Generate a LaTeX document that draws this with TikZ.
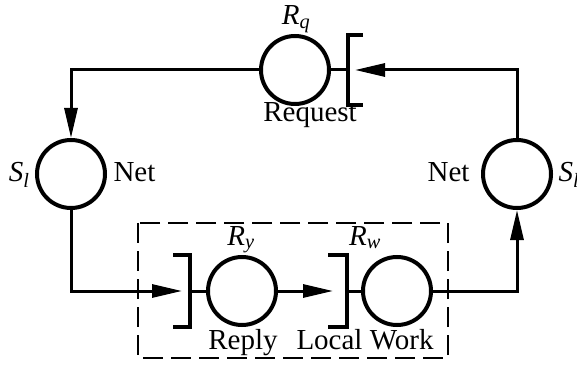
\documentclass[tikz,border=0pt]{standalone}
\usepackage{amsmath}
\usepackage{fontspec}
\setmainfont{Liberation Serif}
\usepackage{tikz}
\usetikzlibrary{calc}
\usetikzlibrary{arrows.meta, shapes}

\newcommand{\plabel}[2]{\textit{#1}$_{\textit{#2}}$}

\begin{document}
\begin{tikzpicture}[x = 1pt, y = 1pt, font = \fontsize{29}{32}\selectfont]

\tikzstyle{place}=[circle, draw, line width = 4pt, minimum size = 68pt, inner sep = 0pt]
\tikzstyle{arc}=[-{Triangle[length=30pt, width=13pt]}, line width = 3pt, color = black]
\tikzstyle{link}=[line width = 3pt, color = black]
\tikzstyle{bar}=[line width = 4pt, color = black]
\tikzstyle{group}=[line width = 1.6pt, dash pattern = on 20pt off 8pt]

\useasboundingbox (0, 0) rectangle (577, 364);

\coordinate (Q) at (295, 294);
\coordinate (L) at (71, 190);
\coordinate (R) at (517, 190);
\coordinate (Y) at (242, 73);
\coordinate (W) at (397, 73);
\coordinate (rqb) at (348, 294);
\coordinate (ryb) at (190, 73);
\coordinate (rwb) at (347, 73);
\coordinate (rqin) at (355, 294);
\coordinate (ryin) at (182, 73);
\coordinate (rwin) at (333, 73);
\coordinate (box1) at (138, 141);
\coordinate (box2) at (448, 6);

\path
(Q) node[place](rq) {}
(L) node[place](sll) {}
(R) node[place](slr) {}
(Y) node[place](ry) {}
(W) node[place](rw) {};

\path
($(Q) + (1, 45)$) node[anchor = base](rqlab) {\plabel{R}{q}}
($(Q) + (15, -52)$) node[anchor = base](reqlab) {Request}
($(L) + (-38, -8)$) node[anchor = base east](sllab) {\plabel{S}{l}}
($(L) + (39, -8)$) node[anchor = base west](netl) {Net}
($(R) + (-44, -8)$) node[anchor = base east](netr) {Net}
($(R) + (38, -8)$) node[anchor = base west](srlab) {\plabel{S}{l}}
($(Y) + (-1, 46)$) node[anchor = base](rylab) {\plabel{R}{y}}
($(W) + (-32, 46)$) node[anchor = base](rwlab) {\plabel{R}{w}}
($(Y) + (1, -58)$) node[anchor = base](replab) {Reply}
($(W) + (-32, -58)$) node[anchor = base](lwlab) {Local Work};

%brackets
\draw[bar] ($(rqb) + (15, 35)$) -- ++(-15, 0) -- ++(0, -70) -- ++(15, 0);
\draw[bar] ($(ryb) + (-17, 36)$) -- ++(17, 0) -- ++(0, -72) -- ++(-17, 0);
\draw[bar] ($(rwb) + (-19, 36)$) -- ++(19, 0) -- ++(0, -72) -- ++(-19, 0);

%dashed group
\draw[group] (box1) rectangle (box2);

%arrows
\draw[arc] (rq.west) -| (sll.north);
\draw[arc] (slr.north) |- (rqin);
\draw[link] (rq.east) -- (rqb);
\draw[arc] (sll.south) |- (ryin);
\draw[link] (ryb) -- (ry.west);
\draw[arc] (ry.east) -- (rwin);
\draw[link] (rwb) -- (rw.west);
\draw[arc] (rw.east) -| (slr.south);

\end{tikzpicture}
\end{document}
